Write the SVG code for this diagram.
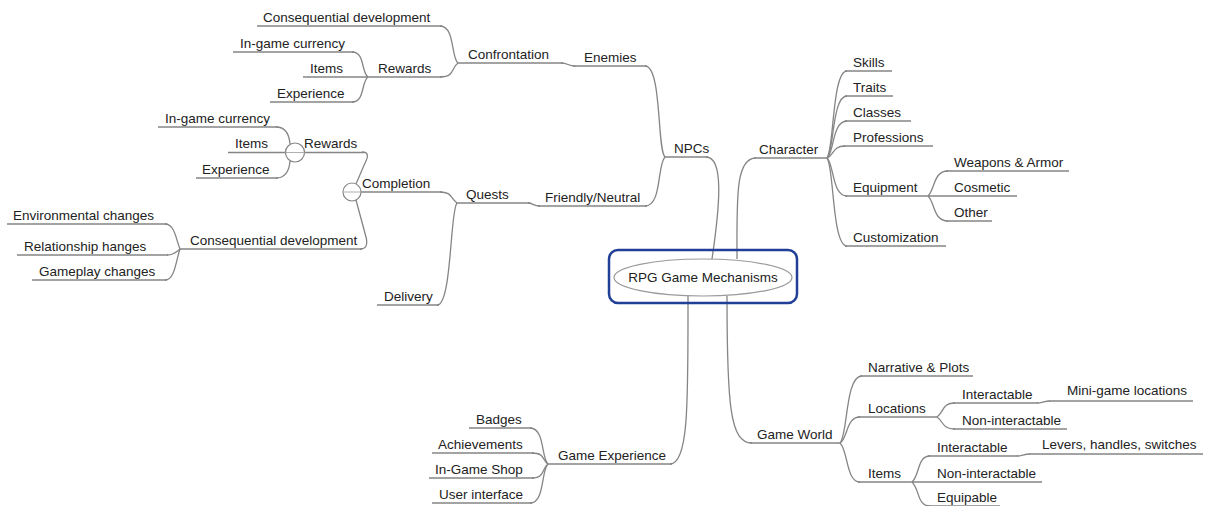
<svg xmlns="http://www.w3.org/2000/svg" width="1209" height="506" viewBox="0 0 1209 506">
<style>
text{font-family:"Liberation Sans",Arial,sans-serif;font-size:13.5px;fill:#222}
.u{stroke:#858585;stroke-width:1.3;fill:none}
.c{stroke:#858585;stroke-width:1.3;fill:none}
.btn{fill:#fff;stroke:#858585;stroke-width:1.2}
.minus{stroke:#b0b0b0;stroke-width:1}
</style>
<rect width="1209" height="506" fill="#fff"/>
<g id="connectors">
<!-- root -->
<path class="c" d="M712 259 C720 205,724 157,706 157"/>
<path class="c" d="M737 259 C737 200,735 158,756 158"/>
<path class="c" d="M688 296 C688 400,689 464,670 464"/>
<path class="c" d="M727 296 C727 405,730 443,752 443"/>
<!-- NPCs -->
<path class="c" d="M665 157 C657 150,662 66,645 66"/>
<path class="c" d="M665 157 C657 165,662 206,645 206"/>
<path class="c" d="M575 66 C568 66,568 63,561 63"/>
<path class="c" d="M540 206 C533 206,533 203,528 203"/>
<!-- Confrontation -->
<path class="c" d="M458 63 C451 58,455 26,440 26"/>
<path class="c" d="M458 63 C451 68,455 77,440 77"/>
<!-- Rewards top -->
<path class="c" d="M368 77 C361 72,365 52,352 52"/>
<path class="c" d="M368 77 C361 82,365 102,352 102"/>
<!-- Quests -->
<path class="c" d="M457 203 C450 198,452 192,440 192"/>
<path class="c" d="M457 203 C450 210,452 305,437 305"/>
<!-- Completion -->
<path class="c" d="M356 184 L365 163 Q371 152 362 152"/>
<path class="c" d="M356 200 L366 237 Q369 249 360 249"/>
<!-- Rewards lower -->
<path class="c" d="M276 127 C284 127,289 132,290 144"/>
<path class="c" d="M276 178 C284 178,289 173,290 161"/>
<!-- Consequential lower -->
<path class="c" d="M165 224 C175 224,176 240,180 249"/>
<path class="c" d="M167 255 C174 255,176 252,180 249"/>
<path class="c" d="M165 280 C175 280,176 260,180 249"/>
<!-- Character -->
<path class="c" d="M827 158 C834 150,832 71,847 71"/>
<path class="c" d="M827 158 C834 152,832 96,847 96"/>
<path class="c" d="M827 158 C834 154,832 121,847 121"/>
<path class="c" d="M827 158 C834 156,832 146,845 146"/>
<path class="c" d="M827 158 C834 164,832 196,847 196"/>
<path class="c" d="M827 158 C834 166,832 246,847 246"/>
<!-- Equipment -->
<path class="c" d="M928 196 C935 190,933 171,948 171"/>
<path class="c" d="M928 196 C935 202,933 221,948 221"/>
<!-- Game World -->
<path class="c" d="M840 443 C848 435,845 376,862 376"/>
<path class="c" d="M840 443 C848 438,846 417,860 417"/>
<path class="c" d="M840 443 C848 450,846 482,860 482"/>
<!-- Locations -->
<path class="c" d="M937 417 C944 412,942 403,955 403"/>
<path class="c" d="M937 417 C944 422,942 429,955 429"/>
<path class="c" d="M1037 403 C1042 403,1044 401,1050 401"/>
<!-- Items -->
<path class="c" d="M912 482 C920 475,917 456,930 456"/>
<path class="c" d="M912 482 C920 490,917 506,930 506"/>
<path class="c" d="M1017 456 C1022 456,1024 454,1030 454"/>
<!-- Game Experience -->
<path class="c" d="M548 464 C541 458,545 428,530 428"/>
<path class="c" d="M548 464 C542 460,545 453,532 453"/>
<path class="c" d="M548 464 C542 468,545 478,532 478"/>
<path class="c" d="M548 464 C541 470,545 503,530 503"/>
</g>

<g id="root">
<rect x="609" y="250" width="188" height="53" rx="9" fill="none" stroke="#213f96" stroke-width="2.5"/>
<ellipse cx="703" cy="277.5" rx="89" ry="18.5" fill="#fff" stroke="#9a9a9a" stroke-width="1.2"/>
<text x="703" y="282" text-anchor="middle">RPG Game Mechanisms</text>
</g>

<g id="npcs"><line class="u" x1="665" y1="157" x2="708" y2="157"/><text x="674" y="152.5">NPCs</text></g>
<g id="enemies"><line class="u" x1="573" y1="66" x2="647" y2="66"/><text x="584" y="61.5">Enemies</text></g>
<g id="confrontation"><line class="u" x1="458" y1="63" x2="563" y2="63"/><text x="468" y="58.5">Confrontation</text></g>
<g id="conf-consequential"><line class="u" x1="257" y1="26" x2="442" y2="26"/><text x="263" y="21.5">Consequential development</text></g>
<g id="conf-rewards"><line class="u" x1="368" y1="77" x2="442" y2="77"/><text x="378" y="72.5">Rewards</text></g>
<g id="conf-currency"><line class="u" x1="233" y1="52" x2="354" y2="52"/><text x="240" y="47.5">In-game currency</text></g>
<g id="conf-items"><line class="u" x1="303" y1="77" x2="368" y2="77"/><text x="310" y="72.5">Items</text></g>
<g id="conf-experience"><line class="u" x1="270" y1="102" x2="354" y2="102"/><text x="277" y="97.5">Experience</text></g>

<g id="friendly"><line class="u" x1="538" y1="206" x2="647" y2="206"/><text x="545" y="201.5">Friendly/Neutral</text></g>
<g id="quests"><line class="u" x1="457" y1="203" x2="530" y2="203"/><text x="466" y="198.5">Quests</text></g>
<g id="completion"><line class="u" x1="352" y1="192" x2="442" y2="192"/><text x="362" y="187.5">Completion</text>
<circle class="btn" cx="352" cy="192" r="9"/><line class="minus" x1="343" y1="192" x2="361" y2="192"/></g>
<g id="q-rewards"><line class="u" x1="295" y1="152.5" x2="364" y2="152.5"/><text x="304" y="148">Rewards</text>
<circle class="btn" cx="295" cy="152.5" r="9.5"/><line class="minus" x1="285.5" y1="152.5" x2="304.5" y2="152.5"/></g>
<g id="q-currency"><line class="u" x1="158" y1="127" x2="278" y2="127"/><text x="165" y="122.5">In-game currency</text></g>
<g id="q-items"><line class="u" x1="228" y1="152.5" x2="285.5" y2="152.5"/><text x="235" y="148">Items</text></g>
<g id="q-experience"><line class="u" x1="196" y1="178" x2="278" y2="178"/><text x="202" y="173.5">Experience</text></g>
<g id="q-consequential"><line class="u" x1="180" y1="249" x2="362" y2="249"/><text x="190" y="244.5">Consequential development</text></g>
<g id="environmental"><line class="u" x1="7" y1="224" x2="167" y2="224"/><text x="13" y="219.5">Environmental changes</text></g>
<g id="relationship"><line class="u" x1="17" y1="255" x2="168" y2="255"/><text x="24" y="250.5">Relationship hanges</text></g>
<g id="gameplay"><line class="u" x1="32" y1="280" x2="167" y2="280"/><text x="39" y="275.5">Gameplay changes</text></g>
<g id="delivery"><line class="u" x1="377" y1="305" x2="439" y2="305"/><text x="384" y="300.5">Delivery</text></g>

<g id="character"><line class="u" x1="754" y1="158" x2="827" y2="158"/><text x="759" y="153.5">Character</text></g>
<g id="skills"><line class="u" x1="845" y1="71" x2="892" y2="71"/><text x="853" y="66.5">Skills</text></g>
<g id="traits"><line class="u" x1="845" y1="96" x2="893" y2="96"/><text x="853" y="91.5">Traits</text></g>
<g id="classes"><line class="u" x1="845" y1="121" x2="911" y2="121"/><text x="853" y="116.5">Classes</text></g>
<g id="professions"><line class="u" x1="843" y1="146" x2="933" y2="146"/><text x="853" y="141.5">Professions</text></g>
<g id="equipment"><line class="u" x1="845" y1="196" x2="928" y2="196"/><text x="853" y="191.5">Equipment</text></g>
<g id="customization"><line class="u" x1="845" y1="246" x2="946" y2="246"/><text x="853" y="241.5">Customization</text></g>
<g id="weapons"><line class="u" x1="946" y1="171" x2="1069" y2="171"/><text x="954" y="166.5">Weapons &amp; Armor</text></g>
<g id="cosmetic"><line class="u" x1="928" y1="196" x2="1017" y2="196"/><text x="954" y="191.5">Cosmetic</text></g>
<g id="other"><line class="u" x1="946" y1="221" x2="992" y2="221"/><text x="954" y="216.5">Other</text></g>

<g id="game-world"><line class="u" x1="750" y1="443" x2="840" y2="443"/><text x="757" y="438.5">Game World</text></g>
<g id="narrative"><line class="u" x1="860" y1="376" x2="973" y2="376"/><text x="868" y="371.5">Narrative &amp; Plots</text></g>
<g id="locations"><line class="u" x1="858" y1="417" x2="937" y2="417"/><text x="868" y="412.5">Locations</text></g>
<g id="w-items"><line class="u" x1="858" y1="482" x2="912" y2="482"/><text x="868" y="477.5">Items</text></g>
<g id="loc-interactable"><line class="u" x1="953" y1="403" x2="1038" y2="403"/><text x="962" y="398.5">Interactable</text></g>
<g id="minigame"><line class="u" x1="1049" y1="401" x2="1193" y2="401"/><text x="1067" y="395">Mini-game locations</text></g>
<g id="loc-noninteractable"><line class="u" x1="953" y1="429" x2="1067" y2="429"/><text x="962" y="424.5">Non-interactable</text></g>
<g id="it-interactable"><line class="u" x1="928" y1="456" x2="1018" y2="456"/><text x="937" y="451.5">Interactable</text></g>
<g id="levers"><line class="u" x1="1029" y1="454" x2="1203" y2="454"/><text x="1042" y="448.5">Levers, handles, switches</text></g>
<g id="it-noninteractable"><line class="u" x1="912" y1="482" x2="1042" y2="482"/><text x="937" y="477.5">Non-interactable</text></g>
<g id="equipable"><line class="u" x1="928" y1="506" x2="1000" y2="506"/><text x="937" y="501.5">Equipable</text></g>

<g id="game-experience"><line class="u" x1="548" y1="464" x2="672" y2="464"/><text x="558" y="459.5">Game Experience</text></g>
<g id="badges"><line class="u" x1="469" y1="428" x2="532" y2="428"/><text x="476" y="423.5">Badges</text></g>
<g id="achievements"><line class="u" x1="432" y1="453" x2="534" y2="453"/><text x="438" y="448.5">Achievements</text></g>
<g id="shop"><line class="u" x1="429" y1="478" x2="534" y2="478"/><text x="435" y="473.5">In-Game Shop</text></g>
<g id="ui"><line class="u" x1="432" y1="503" x2="532" y2="503"/><text x="439" y="498.5">User interface</text></g>
</svg>
